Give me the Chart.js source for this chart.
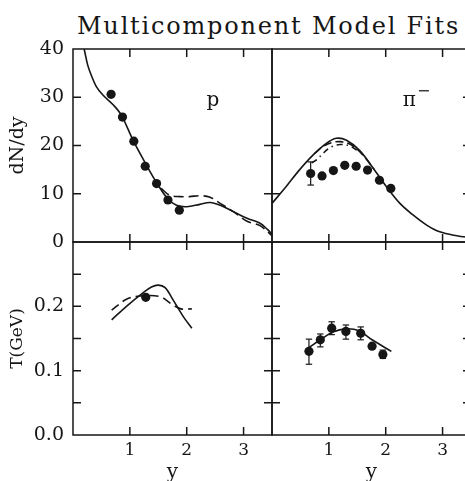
<!DOCTYPE html>
<html>
<head>
<meta charset="utf-8">
<script src="https://cdn.jsdelivr.net/npm/chart.js@4.4.1/dist/chart.umd.min.js"></script>
<style>
  html, body { margin: 0; background: #fff; }
  #wrap { position: relative; width: 465px; height: 481px; overflow: hidden; }
  #wrap canvas { position: absolute; left: 0; top: 0; }
  #title {
    position: absolute; left: 77px; top: 12px; line-height: 24px;
    font: 24px "DejaVu Serif", serif; letter-spacing: 1.8px; white-space: nowrap; color: #161616;
  }
</style>
</head>
<body>
<div id="wrap">
  <div id="title">Multicomponent Model Fits</div>
  <canvas id="pN" width="480" height="481"></canvas>
  <canvas id="piN" width="480" height="481"></canvas>
  <canvas id="pT" width="480" height="481"></canvas>
  <canvas id="piT" width="480" height="481"></canvas>
</div>
<script>
// tick values / labels
const rapTicks = [1, 2, 3];
const dndyTicks = [0, 10, 20, 30, 40];
const tempTicks = [0, 0.05, 0.1, 0.15, 0.2, 0.25, 0.3];
const tempLabels = ['0.0', '', '0.1', '', '0.2', '', ''];

// protons, dN/dy (top left)
const pRap = [0.67, 0.87, 1.07, 1.27, 1.47, 1.67, 1.87];
const pDndy = [30.6, 25.9, 20.9, 15.7, 12.1, 8.7, 6.6];
const pSolidX = [0.16, 0.2, 0.26, 0.32, 0.41, 0.53, 0.71, 0.85, 1.06, 1.27, 1.47, 1.67, 1.82, 2.0, 2.23, 2.41, 2.59, 2.82, 3.06, 3.29, 3.42, 3.5];
const pSolidY = [42, 39.8, 36.6, 34.6, 32.2, 30.4, 28.4, 26.3, 21.0, 16.4, 12.3, 8.9, 7.6, 7.3, 7.8, 8.2, 7.6, 6.3, 4.9, 3.9, 2.6, 1.6];
const pDashX = [1.55, 1.7, 1.88, 2.05, 2.23, 2.41, 2.59, 2.82, 3.06, 3.29, 3.5];
const pDashY = [11.1, 9.7, 9.4, 9.4, 9.6, 9.3, 8.0, 6.3, 4.3, 3.4, 1.3];

// pi minus, dN/dy (top right)
const piRap = [0.68, 0.88, 1.08, 1.28, 1.48, 1.68, 1.89, 2.09];
const piDndy = [14.2, 13.7, 14.8, 15.9, 15.7, 14.9, 12.8, 11.1];
const piErrX = [0.68];
const piErrLo = [11.8];
const piErrHi = [16.6];
const piSolidX = [0, 0.25, 0.48, 0.72, 0.95, 1.13, 1.31, 1.54, 1.78, 2.01, 2.25, 2.48, 2.72, 2.95, 3.25, 3.5];
const piSolidY = [8.0, 11.5, 14.9, 18.0, 20.4, 21.5, 21.1, 19.0, 15.3, 11.5, 8.0, 5.6, 3.5, 2.1, 1.3, 0.9];
const piDashX = [0.75, 0.9, 1.05, 1.2, 1.35, 1.5, 1.65, 1.8];
const piDashY = [18.4, 19.8, 20.6, 20.8, 20.4, 19.2, 17.3, 15.0];
const piDotX = [0.7, 0.8, 0.9, 1.0, 1.1, 1.2, 1.35, 1.5];
const piDotY = [16.4, 17.2, 18.4, 19.4, 20.0, 20.2, 20.0, 19.0];

// protons, temperature (bottom left)
const pTRap = [1.28];
const pTemp = [0.214];
const pTSolidX = [0.68, 0.94, 1.23, 1.38, 1.5, 1.62, 1.76, 1.94, 2.09];
const pTSolidY = [0.179, 0.200, 0.221, 0.230, 0.233, 0.229, 0.210, 0.184, 0.166];
const pTDashX = [0.68, 0.94, 1.18, 1.53, 1.76, 1.9, 2.09];
const pTDashY = [0.194, 0.211, 0.216, 0.215, 0.202, 0.196, 0.196];

// pi minus, temperature (bottom right)
const piTRap = [0.65, 0.85, 1.05, 1.30, 1.56, 1.76, 1.95];
const piTemp = [0.130, 0.148, 0.166, 0.161, 0.158, 0.138, 0.125];
const piTLo = [0.110, 0.137, 0.156, 0.149, 0.148, null, 0.119];
const piTHi = [0.149, 0.157, 0.176, 0.171, 0.168, null, 0.132];
const piTSolidX = [0.65, 0.85, 1.07, 1.30, 1.53, 1.76, 2.10];
const piTSolidY = [0.136, 0.148, 0.160, 0.165, 0.162, 0.148, 0.130];

const INK = '#161616';
const SERIF = "'DejaVu Serif', serif";
const CW = 480, CH = 481;
const LEFT = { left: 73, right: 272 };
const RIGHT = { left: 272, right: 471 };
const TOP = { top: 49, bottom: 242 };
const BOTTOM = { top: 242, bottom: 435 };

const pts = (xs, ys) => xs.map((x, i) => ({ x, y: ys[i] }));

function curve(xs, ys, dash) {
  return {
    data: pts(xs, ys), showLine: true, borderColor: INK, borderWidth: 1.6,
    borderDash: dash || [], pointRadius: 0, tension: 0.35, fill: false,
  };
}

function dots(xs, ys) {
  return {
    data: pts(xs, ys), showLine: false, pointRadius: 4.6,
    pointBackgroundColor: INK, pointBorderColor: INK, pointBorderWidth: 0,
  };
}

function errBars(xs, lo, hi) {
  return xs.map((x, i) => lo[i] == null ? null : {
    data: [{ x, y: lo[i] }, { x, y: hi[i] }], showLine: true,
    borderColor: INK, borderWidth: 1.2, pointStyle: 'line', pointRadius: 3.2,
    pointBorderColor: INK, pointBorderWidth: 1.2,
  }).filter(Boolean);
}

// frame + inward ticks on all four sides
const frameTicks = {
  id: 'frameTicks',
  afterDraw(chart) {
    const { ctx, chartArea: a, scales } = chart;
    const x = scales.x, y = scales.y;
    const L = 8;
    ctx.save();
    ctx.setLineDash([]);
    ctx.strokeStyle = INK;
    ctx.lineWidth = 1.5;
    ctx.beginPath();
    ctx.rect(a.left, a.top, a.right - a.left, a.bottom - a.top);
    x.ticks.forEach(t => {
      const px = x.getPixelForValue(t.value);
      ctx.moveTo(px, a.top); ctx.lineTo(px, a.top + L);
      ctx.moveTo(px, a.bottom); ctx.lineTo(px, a.bottom - L);
    });
    y.ticks.forEach(t => {
      const py = y.getPixelForValue(t.value);
      if (py <= a.top + 1 || py >= a.bottom - 1) return;
      ctx.moveTo(a.left, py); ctx.lineTo(a.left + L, py);
      ctx.moveTo(a.right, py); ctx.lineTo(a.right - L, py);
    });
    ctx.stroke();
    ctx.restore();
  },
};

// particle label inside the panel
const panelLabel = {
  id: 'panelLabel',
  afterDraw(chart, args, o) {
    if (!o || !o.text) return;
    const { ctx, scales: { x, y } } = chart;
    const px = x.getPixelForValue(o.x), py = y.getPixelForValue(o.y);
    ctx.save();
    ctx.fillStyle = INK;
    ctx.textBaseline = 'alphabetic';
    ctx.textAlign = 'left';
    ctx.font = '20px ' + SERIF;
    ctx.fillText(o.text, px, py);
    if (o.sup) {
      const w = ctx.measureText(o.text).width;
      ctx.font = '16px ' + SERIF;
      ctx.fillText(o.sup, px + w + 1, py - 10);
    }
    ctx.restore();
  },
};

function panel(id, h, v, cfg) {
  const showY = !!cfg.yTitle;
  const showX = !!cfg.xTitle;
  new Chart(document.getElementById(id), {
    type: 'scatter',
    data: { datasets: cfg.datasets },
    options: {
      responsive: false,
      animation: false,
      layout: {
        padding: {
          left: showY ? 0 : h.left, right: CW - h.right,
          top: v.top, bottom: showX ? 0 : CH - v.bottom,
        },
      },
      plugins: { legend: { display: false }, tooltip: { enabled: false }, panelLabel: cfg.label || {} },
      scales: {
        x: {
          type: 'linear', min: 0, max: 3.5,
          grid: { display: false, drawTicks: false }, border: { display: false },
          ticks: {
            display: showX, autoSkip: false, maxRotation: 0, padding: 5,
            color: INK, font: { family: SERIF, size: 17 },
            callback: val => String(val),
          },
          afterBuildTicks: s => { s.ticks = rapTicks.map(value => ({ value })); },
          title: { display: showX, text: 'y', color: INK, font: { family: SERIF, size: 20, lineHeight: 0.8 }, padding: { top: 0, bottom: 0 } },
          afterFit: s => { s.height = showX ? CH - v.bottom : 0; },
        },
        y: {
          type: 'linear', min: cfg.yMin, max: cfg.yMax,
          grid: { display: false, drawTicks: false }, border: { display: false },
          ticks: {
            display: showY, autoSkip: false, padding: 9,
            color: INK, font: { family: SERIF, size: 19 },
            callback: (val, i) => cfg.yLabels[i],
          },
          afterBuildTicks: s => { s.ticks = cfg.yTicks.map(value => ({ value })); },
          title: { display: showY, text: cfg.yTitle, color: INK, font: { family: SERIF, size: cfg.yTitleSize, lineHeight: 1.2 }, padding: { top: 7, bottom: 0 } },
          afterFit: s => { s.width = showY ? h.left : 0; },
        },
      },
    },
    plugins: [frameTicks, panelLabel],
  });
}

const dndyLabels = dndyTicks.map(String);

panel('pN', LEFT, TOP, {
  yMin: 0, yMax: 40, yTicks: dndyTicks, yLabels: dndyLabels, yTitle: 'dN/dy', yTitleSize: 19,
  label: { text: 'p', x: 2.35, y: 28.2 },
  datasets: [curve(pSolidX, pSolidY), curve(pDashX, pDashY, [10, 5]), dots(pRap, pDndy)],
});

panel('piN', RIGHT, TOP, {
  yMin: 0, yMax: 40, yTicks: dndyTicks, yLabels: dndyLabels,
  label: { text: 'π', sup: '−', x: 2.3, y: 28.2 },
  datasets: [
    curve(piSolidX, piSolidY), curve(piDashX, piDashY, [8, 4]), curve(piDotX, piDotY, [6, 4, 1.5, 4]),
    ...errBars(piErrX, piErrLo, piErrHi), dots(piRap, piDndy),
  ],
});

panel('pT', LEFT, BOTTOM, {
  yMin: 0, yMax: 0.3, yTicks: tempTicks, yLabels: tempLabels, yTitle: 'T(GeV)', yTitleSize: 17, xTitle: true,
  datasets: [curve(pTSolidX, pTSolidY), curve(pTDashX, pTDashY, [9, 5]), dots(pTRap, pTemp)],
});

panel('piT', RIGHT, BOTTOM, {
  yMin: 0, yMax: 0.3, yTicks: tempTicks, yLabels: tempLabels, xTitle: true,
  datasets: [curve(piTSolidX, piTSolidY), ...errBars(piTRap, piTLo, piTHi), dots(piTRap, piTemp)],
});
</script>
</body>
</html>
